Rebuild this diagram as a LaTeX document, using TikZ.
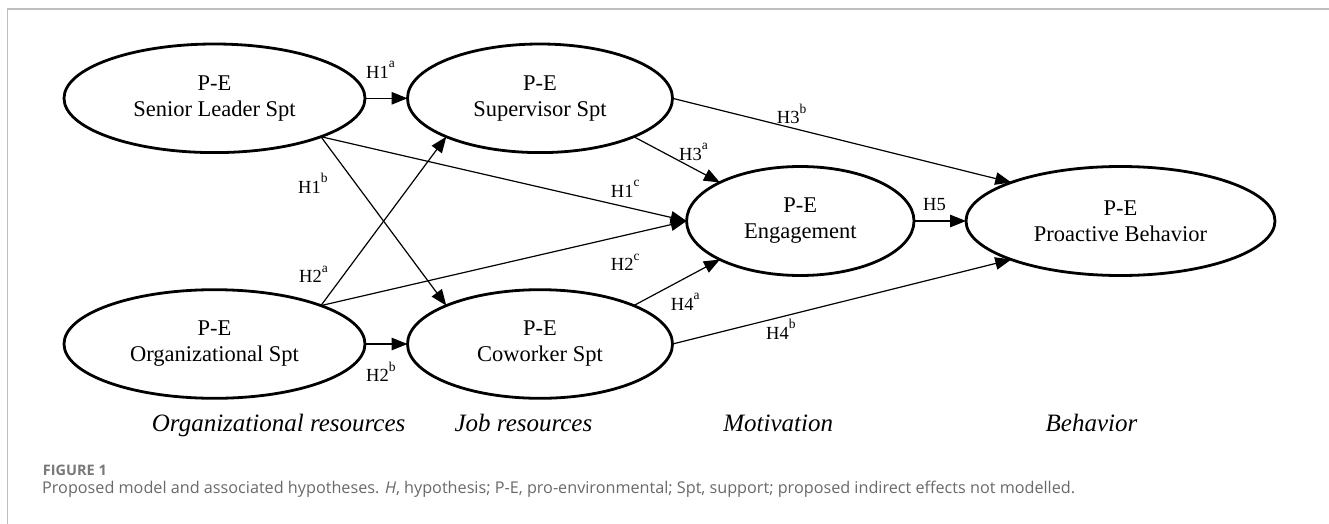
\documentclass[tikz,border=0pt]{standalone}
\usepackage{fontspec}
\setmainfont{Liberation Serif}
\newfontfamily\capfont{Open Sans}
\usetikzlibrary{shapes.geometric,arrows.meta}
\definecolor{framegray}{RGB}{190,190,190}
\definecolor{capgray}{RGB}{105,105,105}
\definecolor{figgray}{RGB}{120,120,120}
\newcommand\hlab[2]{H#1\raisebox{10.5pt}{\fontsize{13.5}{13.5}\selectfont #2}}
\tikzset{
  latent/.style={draw, ellipse, line width=2.8pt, inner sep=0pt, outer sep=0pt,
    align=center, font=\fontsize{22.5}{26}\selectfont},
  conn/.style={line width=1.2pt, -{Triangle[length=16pt,width=12.5pt]}},
  hlabel/.style={inner sep=0pt, anchor=base west, font=\fontsize{18.5}{18.5}\selectfont},
  stage/.style={inner sep=0pt, anchor=base west, font=\fontsize{25}{25}\selectfont\itshape},
}
\begin{document}
\begin{tikzpicture}[x=1pt,y=-1pt]
\useasboundingbox (0,0) rectangle (1329,524);
% frame
\draw[framegray, line width=1.6pt] (7.3,524) -- (7.3,9) -- (1329,9);
% ellipses
\node[latent, minimum width=301pt, minimum height=108.6pt] (sl) at (214.5,98.3) {P-E\\Senior Leader Spt};
\node[latent, minimum width=265pt, minimum height=108.6pt] (sup) at (540,98.3) {P-E\\Supervisor Spt};
\node[latent, minimum width=301pt, minimum height=108.6pt] (org) at (214.5,344) {P-E\\Organizational Spt};
\node[latent, minimum width=265pt, minimum height=108.6pt] (cow) at (540,344) {P-E\\Coworker Spt};
\node[latent, minimum width=227.4pt, minimum height=109pt] (eng) at (800.3,221) {P-E\\Engagement};
\node[latent, minimum width=309pt, minimum height=109pt] (pro) at (1120.5,221) {P-E\\Proactive Behavior};
% connectors
\draw[conn] (sl.east) -- (sup.west);
\draw[conn] (sl.south east) -- (cow.north west);
\draw[conn] (sl.south east) -- (eng.west);
\draw[conn] (org.north east) -- (sup.south west);
\draw[conn] (org.north east) -- (eng.west);
\draw[conn] (org.east) -- (cow.west);
\draw[conn] (sup.south east) -- (eng.north west);
\draw[conn] (sup.east) -- (pro.north west);
\draw[conn] (cow.north east) -- (eng.south west);
\draw[conn] (cow.east) -- (pro.south west);
\draw[conn] (eng.east) -- (pro.west);
% hypothesis labels
\node[hlabel] (h1a) at (366,78.3) {\hlab{1}{a}};
\node[hlabel] (h1b) at (298,193.3) {\hlab{1}{b}};
\node[hlabel] (h1c) at (610.7,197.3) {\hlab{1}{c}};
\node[hlabel] (h2a) at (299,282.7) {\hlab{2}{a}};
\node[hlabel] (h2b) at (366,381.7) {\hlab{2}{b}};
\node[hlabel] (h2c) at (610.7,270.7) {\hlab{2}{c}};
\node[hlabel] (h3a) at (679,160) {\hlab{3}{a}};
\node[hlabel] (h3b) at (776.7,124) {\hlab{3}{b}};
\node[hlabel] (h4a) at (670.7,310) {\hlab{4}{a}};
\node[hlabel] (h4b) at (766,339.3) {\hlab{4}{b}};
\node[hlabel] (h5) at (923,210.7) {H5};
% stage labels
\node[stage] (s1) at (151.7,431.7) {Organizational resources};
\node[stage] (s2) at (454.4,431.7) {Job resources};
\node[stage] (s3) at (723.2,431.7) {Motivation};
\node[stage] (s4) at (1045.5,431.7) {Behavior};
% caption
\node[inner sep=0pt, anchor=base west, text=figgray, font=\capfont\bfseries\fontsize{14.5}{14.5}\selectfont] (fig) at (42.7,475) {FIGURE 1};
\node[inner sep=0pt, anchor=base west, text=capgray, font=\capfont\fontsize{16.2}{16.2}\selectfont] (cap) at (42,493.3) {Proposed model and associated hypotheses. \textit{H}, hypothesis; P-E, pro-environmental; Spt, support; proposed indirect effects not modelled.};
\end{tikzpicture}
\end{document}
